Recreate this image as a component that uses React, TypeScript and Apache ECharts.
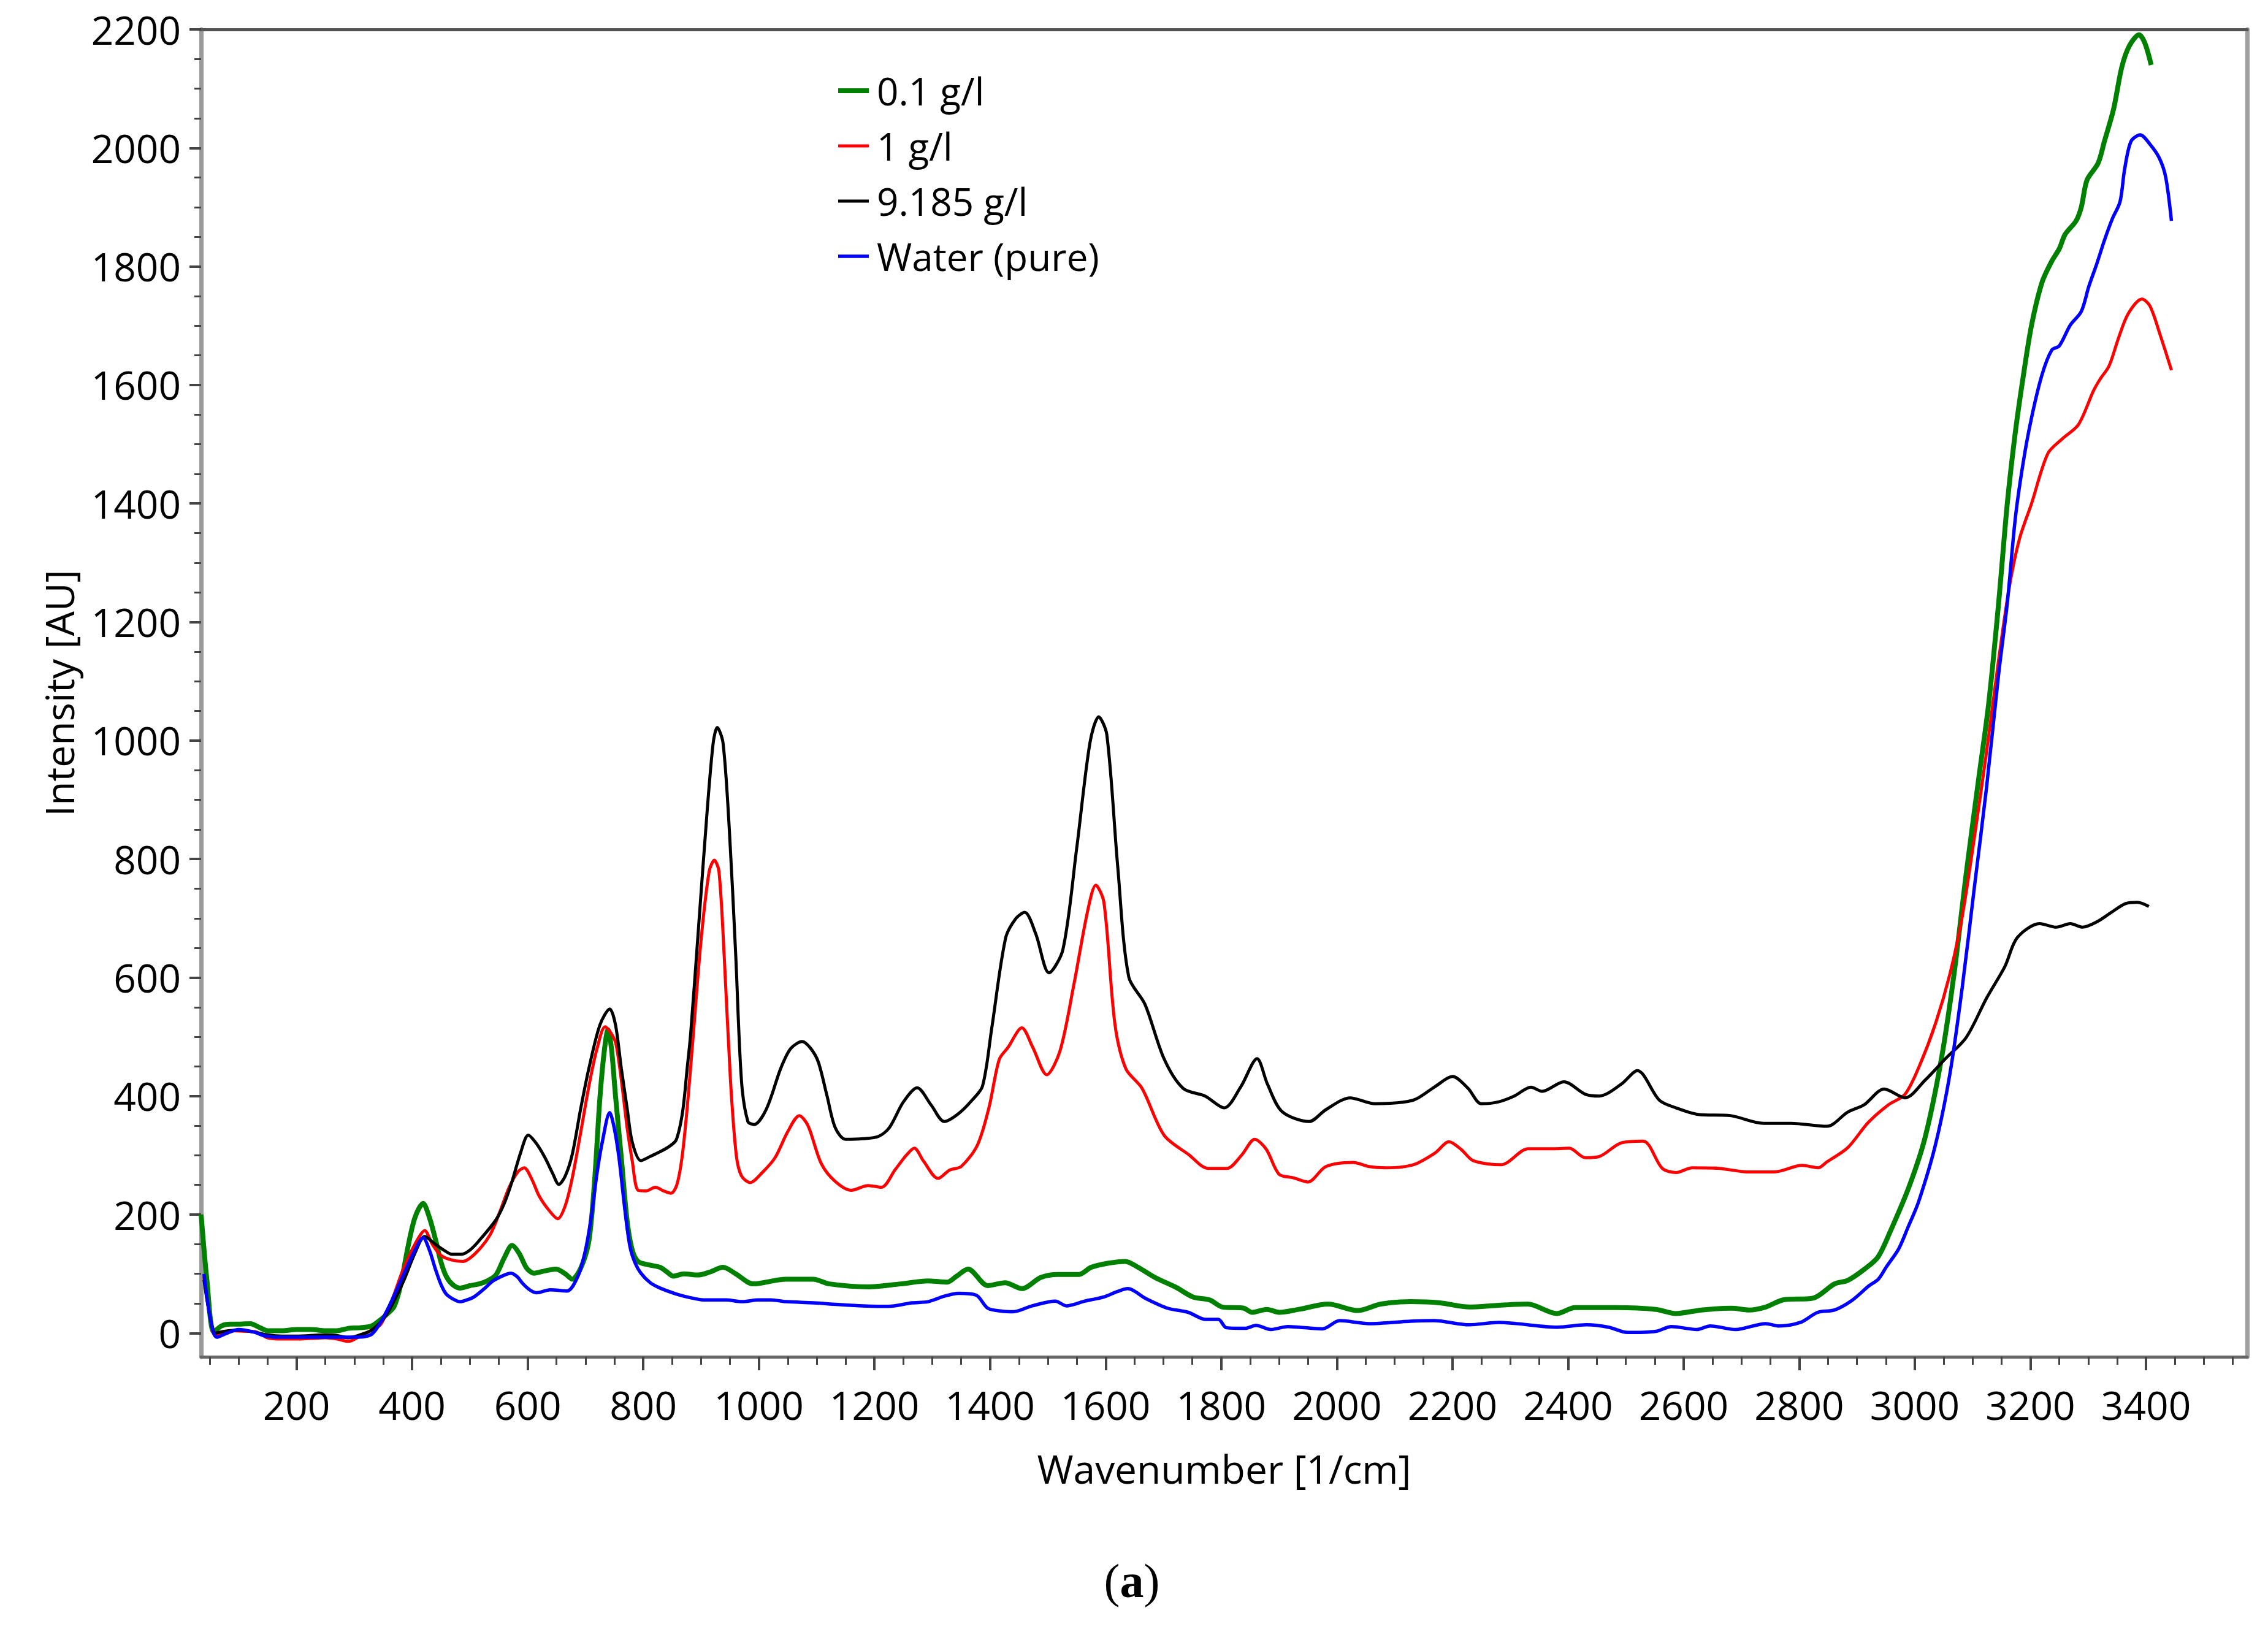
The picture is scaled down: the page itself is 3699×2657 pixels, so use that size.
import React, { useEffect, useRef } from "react";
import * as echarts from "echarts";

// ---- Data ----
const SERIES_NAMES = ["0.1 g/l", "1 g/l", "9.185 g/l", "Water (pure)"];
const SERIES_COLORS = ["#008000", "#ff0000", "#000000", "#0000ff"];

const WN_GREEN = [35, 45, 57, 70, 85, 100, 120, 135, 150, 175, 200, 225, 250, 270, 290, 310, 330, 346, 360, 369, 380, 393, 405, 419, 430, 441, 450, 459, 470, 483, 500, 516, 530, 545, 560, 573, 585, 598, 611, 630, 649, 665, 677, 692, 706, 716, 725, 733, 739, 745, 752, 762, 772, 781, 791, 810, 829, 840, 852, 870, 895, 915, 938, 960, 990, 1047, 1094, 1122, 1189, 1245, 1293, 1326, 1342, 1362, 1396, 1426, 1455, 1488, 1517, 1554, 1575, 1605, 1634, 1656, 1685, 1722, 1751, 1780, 1802, 1839, 1853, 1879, 1901, 1934, 1985, 2036, 2076, 2127, 2178, 2229, 2280, 2330, 2381, 2412, 2483, 2552, 2586, 2631, 2683, 2713, 2742, 2772, 2824, 2861, 2884, 2913, 2936, 2956, 2990, 3018, 3046, 3068, 3089, 3110, 3128, 3145, 3160, 3174, 3188, 3202, 3220, 3237, 3250, 3260, 3279, 3288, 3298, 3317, 3328, 3344, 3358, 3371, 3388, 3398, 3409];
const I_GREEN = [200, 90, 2, 12, 15, 15, 16, 10, 4, 4, 6, 6, 4, 4, 8, 9, 12, 23, 35, 45, 80, 146, 195, 219, 195, 156, 120, 96, 82, 76, 80, 83, 88, 98, 128, 148, 135, 110, 101, 105, 108, 100, 91, 110, 156, 260, 397, 480, 512, 480, 400, 296, 190, 140, 121, 115, 111, 104, 96, 100, 98, 103, 111, 100, 83, 91, 91, 83, 78, 83, 88, 86, 96, 108, 80, 85, 75, 94, 99, 99, 111, 118, 121, 111, 94, 77, 61, 56, 44, 42, 35, 40, 35, 40, 49, 38, 49, 53, 51, 44, 47, 49, 33, 43, 43, 40, 33, 39, 42, 39, 44, 56, 59, 83, 89, 108, 128, 168, 247, 331, 463, 607, 776, 932, 1064, 1232, 1400, 1521, 1617, 1701, 1773, 1809, 1830, 1854, 1877, 1900, 1946, 1974, 2011, 2066, 2136, 2172, 2191, 2177, 2140];

const WN_RED = [40, 50, 60, 75, 90, 110, 130, 150, 175, 200, 225, 250, 270, 290, 310, 330, 346, 365, 384, 405, 422, 435, 450, 470, 488, 510, 535, 552, 568, 583, 594, 607, 620, 637, 652, 665, 677, 692, 706, 720, 734, 745, 753, 763, 772, 781, 791, 805, 821, 835, 848, 858, 867, 876, 886, 900, 914, 923, 931, 940, 951, 961, 970, 985, 1005, 1028, 1050, 1070, 1085, 1108, 1132, 1160, 1189, 1212, 1236, 1255, 1269, 1285, 1310, 1330, 1350, 1378, 1398, 1416, 1431, 1455, 1474, 1498, 1521, 1545, 1569, 1583, 1597, 1616, 1635, 1663, 1701, 1744, 1777, 1810, 1835, 1858, 1878, 1900, 1925, 1950, 1981, 2028, 2056, 2085, 2132, 2170, 2194, 2215, 2236, 2284, 2331, 2378, 2402, 2430, 2454, 2492, 2530, 2563, 2587, 2615, 2662, 2710, 2757, 2805, 2833, 2848, 2884, 2919, 2954, 2983, 3008, 3036, 3061, 3082, 3103, 3124, 3145, 3163, 3181, 3202, 3230, 3255, 3283, 3309, 3320, 3336, 3352, 3369, 3393, 3407, 3425, 3444];
const I_RED = [95, 30, -5, 2, 4, 3, 2, -8, -10, -10, -9, -8, -10, -14, -5, 5, 15, 55, 106, 150, 173, 150, 131, 123, 121, 135, 166, 205, 246, 272, 279, 260, 231, 207, 193, 215, 261, 340, 417, 480, 517, 505, 487, 420, 347, 290, 241, 240, 246, 240, 236, 250, 296, 380, 497, 663, 779, 798, 779, 637, 425, 300, 265, 254, 270, 296, 340, 367, 350, 286, 256, 241, 249, 246, 276, 300, 312, 290, 261, 275, 281, 317, 380, 462, 482, 515, 482, 436, 476, 588, 713, 756, 727, 522, 446, 413, 334, 301, 278, 278, 300, 327, 310, 268, 262, 255, 281, 288, 281, 279, 284, 304, 323, 310, 291, 284, 311, 311, 312, 296, 298, 321, 324, 278, 271, 279, 278, 272, 272, 283, 279, 289, 313, 355, 385, 403, 451, 523, 607, 703, 836, 980, 1136, 1256, 1340, 1400, 1484, 1509, 1533, 1590, 1609, 1632, 1678, 1720, 1745, 1733, 1683, 1625];

const WN_BLACK = [40, 50, 60, 75, 100, 125, 150, 175, 200, 250, 270, 290, 310, 330, 355, 384, 405, 422, 440, 455, 469, 485, 500, 516, 545, 560, 573, 588, 601, 615, 630, 643, 654, 665, 677, 692, 706, 725, 742, 752, 762, 772, 781, 796, 812, 829, 845, 857, 868, 876, 882, 896, 910, 921, 928, 938, 949, 960, 970, 981, 992, 1013, 1038, 1055, 1075, 1090, 1103, 1118, 1132, 1150, 1180, 1207, 1226, 1250, 1274, 1298, 1321, 1345, 1368, 1387, 1403, 1427, 1445, 1460, 1479, 1502, 1526, 1550, 1573, 1588, 1602, 1621, 1640, 1668, 1701, 1734, 1772, 1805, 1834, 1862, 1880, 1905, 1952, 1981, 2023, 2066, 2132, 2170, 2200, 2227, 2250, 2279, 2307, 2336, 2355, 2393, 2430, 2454, 2492, 2520, 2558, 2587, 2625, 2681, 2738, 2786, 2848, 2884, 2912, 2947, 2983, 3018, 3053, 3089, 3124, 3156, 3177, 3216, 3245, 3269, 3290, 3315, 3340, 3365, 3385, 3405];
const I_BLACK = [90, 30, 0, 3, 5, 2, -3, -5, -5, -3, -4, -8, -3, 5, 30, 85, 135, 163, 150, 140, 133, 133, 140, 156, 191, 220, 256, 305, 334, 320, 296, 270, 251, 265, 301, 380, 447, 520, 547, 520, 447, 380, 322, 291, 298, 306, 315, 326, 373, 447, 505, 689, 874, 996, 1022, 996, 848, 637, 425, 357, 352, 378, 447, 480, 492, 480, 457, 400, 347, 327, 328, 332, 347, 390, 414, 385, 357, 370, 392, 417, 515, 667, 700, 710, 674, 608, 647, 819, 997, 1040, 1010, 786, 601, 555, 463, 413, 400, 380, 416, 463, 420, 374, 357, 377, 397, 387, 393, 416, 433, 413, 387, 390, 400, 415, 408, 424, 403, 400, 420, 443, 393, 380, 369, 367, 354, 354, 349, 373, 385, 412, 397, 427, 463, 499, 565, 619, 667, 691, 685, 691, 685, 694, 710, 725, 727, 720];

const WN_BLUE = [40, 50, 62, 80, 100, 125, 147, 175, 200, 250, 300, 330, 355, 384, 405, 419, 430, 441, 450, 459, 470, 483, 495, 507, 525, 540, 560, 571, 582, 592, 605, 616, 639, 668, 687, 700, 710, 720, 729, 742, 750, 758, 768, 777, 786, 796, 812, 829, 857, 880, 904, 943, 971, 999, 1021, 1047, 1094, 1141, 1180, 1224, 1265, 1293, 1320, 1346, 1376, 1396, 1420, 1440, 1473, 1513, 1532, 1564, 1597, 1620, 1638, 1670, 1707, 1743, 1773, 1795, 1809, 1842, 1860, 1886, 1915, 1934, 1975, 2005, 2056, 2127, 2168, 2229, 2280, 2310, 2381, 2432, 2470, 2503, 2552, 2579, 2623, 2646, 2690, 2742, 2765, 2802, 2832, 2861, 2891, 2921, 2937, 2951, 2972, 2988, 3007, 3036, 3061, 3082, 3103, 3124, 3145, 3160, 3174, 3188, 3202, 3220, 3237, 3250, 3269, 3288, 3301, 3315, 3328, 3342, 3355, 3363, 3374, 3390, 3407, 3423, 3434, 3444];
const I_BLUE = [100, 30, -7, 0, 6, 2, -5, -7, -7, -7, -7, -2, 35, 96, 140, 161, 140, 106, 82, 66, 58, 53, 56, 61, 75, 88, 98, 101, 95, 83, 72, 68, 73, 71, 96, 140, 196, 270, 322, 372, 345, 296, 210, 146, 118, 101, 85, 76, 66, 60, 56, 56, 53, 56, 56, 53, 51, 48, 46, 45, 51, 53, 62, 67, 64, 42, 37, 36, 46, 54, 46, 54, 61, 70, 75, 58, 42, 35, 23, 23, 9, 8, 13, 6, 11, 10, 7, 21, 16, 20, 21, 14, 18, 16, 10, 14, 10, 1, 3, 11, 6, 12, 6, 16, 12, 18, 35, 39, 55, 80, 91, 112, 142, 178, 223, 319, 439, 583, 752, 920, 1112, 1232, 1376, 1472, 1545, 1617, 1659, 1666, 1701, 1724, 1766, 1805, 1844, 1881, 1909, 1964, 2011, 2022, 2006, 1983, 1951, 1877];

const X_MAJOR_TICKS = [200, 400, 600, 800, 1000, 1200, 1400, 1600, 1800, 2000, 2200, 2400, 2600, 2800, 3000, 3200, 3400];
const Y_MAJOR_TICKS = [0, 200, 400, 600, 800, 1000, 1200, 1400, 1600, 1800, 2000, 2200];
const X_RANGE = [35, 3575];
const Y_RANGE = [-40, 2200];
const MINOR_STEP = 50;

function minorTicks(lo: number, hi: number, step: number): number[] {
  const out: number[] = [];
  for (let v = Math.ceil(lo / step) * step; v <= hi; v += step) out.push(v);
  return out;
}

function zip(xs: number[], ys: number[]): number[][] {
  return xs.map((x, i) => [x, ys[i]]);
}

const FONT = "'Segoe UI', 'Open Sans', 'Noto Sans', sans-serif";
const plain = (v: number) => String(v);

export default function App() {
  const ref = useRef<HTMLDivElement>(null);
  useEffect(() => {
    if (!ref.current) return;
    const chart = echarts.init(ref.current, undefined, { renderer: "svg" });
    const wns = [WN_GREEN, WN_RED, WN_BLACK, WN_BLUE];
    const vals = [I_GREEN, I_RED, I_BLACK, I_BLUE];
    const widths = [8, 5, 5, 5.5];
    const legendIcons = [
      "path://M0,0H50V8H0Z",
      "path://M0,0H50V5H0Z",
      "path://M0,0H50V5H0Z",
      "path://M0,0H50V5.5H0Z",
    ];
    const xMinor = minorTicks(X_RANGE[0], X_RANGE[1], MINOR_STEP);
    const yMinor = minorTicks(Y_RANGE[0], Y_RANGE[1], MINOR_STEP);

    const hiddenAxisBase = {
      type: "value" as const,
      axisLabel: { show: false },
      splitLine: { show: false },
    };

    chart.setOption({
      animation: false,
      backgroundColor: "#ffffff",
      grid: {
        left: 328,
        right: 34,
        top: 48,
        bottom: 444,
        containLabel: false,
        outerBoundsMode: "none",
        show: false,
      },
      legend: {
        orient: "vertical",
        left: 1362,
        top: 108,
        itemWidth: 50,
        itemHeight: 8,
        itemGap: 20,
        selectedMode: false,
        textStyle: {
          fontFamily: FONT,
          fontSize: 62,
          lineHeight: 70,
          color: "#000",
          padding: [0, 0, 0, 8],
        },
        data: SERIES_NAMES.map((name, i) => ({
          name,
          icon: legendIcons[i],
          itemStyle: { color: SERIES_COLORS[i] },
        })),
      },
      xAxis: [
        {
          type: "value",
          min: X_RANGE[0],
          max: X_RANGE[1],
          position: "bottom",
          name: "Wavenumber [1/cm]",
          nameLocation: "middle",
          nameGap: 150,
          nameTextStyle: { fontFamily: FONT, fontSize: 64, color: "#000" },
          axisLine: { show: true, onZero: false, lineStyle: { color: "#666", width: 5 } },
          axisTick: { show: true, customValues: X_MAJOR_TICKS, length: 22, lineStyle: { color: "#444", width: 4 } },
          axisLabel: { show: true, customValues: X_MAJOR_TICKS, formatter: plain, margin: 46, fontFamily: FONT, fontSize: 64, color: "#000" },
          splitLine: { show: false },
        },
        {
          ...hiddenAxisBase,
          min: X_RANGE[0],
          max: X_RANGE[1],
          position: "bottom",
          axisLine: { show: false, onZero: false },
          axisTick: { show: true, customValues: xMinor, length: 13, lineStyle: { color: "#444", width: 3 } },
        },
        {
          ...hiddenAxisBase,
          min: X_RANGE[0],
          max: X_RANGE[1],
          position: "top",
          axisLine: { show: true, onZero: false, lineStyle: { color: "#555", width: 5 } },
          axisTick: { show: false },
        },
      ],
      yAxis: [
        {
          type: "value",
          min: Y_RANGE[0],
          max: Y_RANGE[1],
          position: "left",
          name: "Intensity [AU]",
          nameLocation: "middle",
          nameRotate: 90,
          nameGap: 200,
          nameTextStyle: { fontFamily: FONT, fontSize: 64, color: "#000" },
          axisLine: { show: true, onZero: false, lineStyle: { color: "#9a9a9a", width: 7 } },
          axisTick: { show: true, customValues: Y_MAJOR_TICKS, length: 19, lineStyle: { color: "#444", width: 4 } },
          axisLabel: { show: true, customValues: Y_MAJOR_TICKS, formatter: plain, margin: 33, fontFamily: FONT, fontSize: 64, color: "#000" },
          splitLine: { show: false },
        },
        {
          ...hiddenAxisBase,
          min: Y_RANGE[0],
          max: Y_RANGE[1],
          position: "left",
          axisLine: { show: false, onZero: false },
          axisTick: { show: true, customValues: yMinor, length: 11, lineStyle: { color: "#444", width: 3 } },
        },
        {
          ...hiddenAxisBase,
          min: Y_RANGE[0],
          max: Y_RANGE[1],
          position: "right",
          axisLine: { show: true, onZero: false, lineStyle: { color: "#a0a0a0", width: 7 } },
          axisTick: { show: false },
        },
      ],
      series: SERIES_NAMES.map((name, i) => ({
        name,
        type: "line",
        xAxisIndex: 0,
        yAxisIndex: 0,
        data: zip(wns[i], vals[i]),
        symbol: "none",
        smooth: 0.3,
        clip: true,
        lineStyle: { color: SERIES_COLORS[i], width: widths[i] },
        itemStyle: { color: SERIES_COLORS[i] },
        z: 2 + i,
      })),
      graphic: [
        {
          type: "text",
          x: 1846,
          y: 2578,
          style: {
            text: "{p|(}{b|a}{p|)}",
            textAlign: "center",
            textVerticalAlign: "middle",
            rich: {
              p: { fontFamily: "'Liberation Serif', 'DejaVu Serif', serif", fontSize: 78, fill: "#000" },
              b: { fontFamily: "'Liberation Serif', 'DejaVu Serif', serif", fontSize: 78, fontWeight: "bold", fill: "#000" },
            },
          },
        },
      ],
    });
    return () => chart.dispose();
  }, []);
  return (
    <div
      ref={ref}
      style={{ position: "fixed", left: 0, top: 0, width: 3699, height: 2657, background: "#fff" }}
    />
  );
}
